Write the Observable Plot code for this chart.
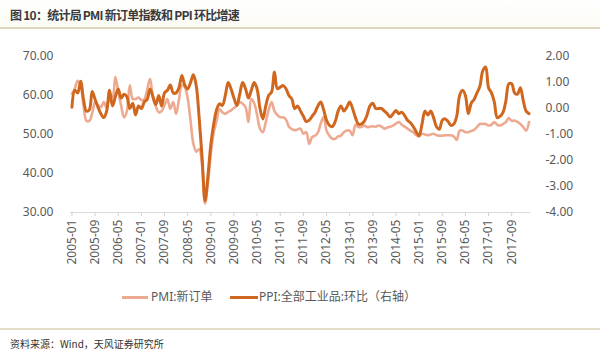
<!DOCTYPE html>
<html>
<head>
<meta charset="utf-8">
<script src="https://cdn.jsdelivr.net/npm/d3@7"></script>
<script src="https://cdn.jsdelivr.net/npm/@observablehq/plot@0.6"></script>
<style>
  html, body { margin: 0; padding: 0; background: #fff; }
  body { width: 600px; height: 355px; position: relative; overflow: hidden;
         font-family: "Noto Sans", "Noto Sans CJK SC", sans-serif; }
  #titlebar { position: absolute; left: 0; top: 0; width: 600px; height: 27px;
              background: linear-gradient(#ffffff, #fbfaf3); border-bottom: 2px solid #dcd5bd; }
  #title { position: absolute; left: 10px; top: 6px; font-size: 12px; font-weight: bold; color: #3a3a3a;
           font-family: "Noto Sans CJK SC", sans-serif; letter-spacing: -0.75px; white-space: nowrap; }
  #chart { position: absolute; left: 0; top: 0; }
  .sw { position: absolute; height: 3px; top: 296px; }
  .lt { position: absolute; top: 289px; font-size: 12px; color: #595959; white-space: nowrap;
        font-family: "Noto Sans", "Noto Sans CJK SC", sans-serif; line-height: 16px; }
  #bottomline { position: absolute; left: 0; top: 328px; width: 600px; height: 0; border-top: 2px solid #e3dcc6; }
  #source { position: absolute; left: 10px; top: 336px; font-size: 10px; color: #333;
            font-family: "Noto Sans CJK SC", sans-serif; white-space: nowrap; }
</style>
</head>
<body>
<div id="titlebar"></div>
<div id="chart"></div>
<div id="title">图 10：统计局 PMI 新订单指数和 PPI 环比增速</div>
<div class="sw" id="sw1" style="left:122px;width:26px;"></div>
<div class="lt" id="lt1" style="left:151px;"></div>
<div class="sw" id="sw2" style="left:230px;width:28px;"></div>
<div class="lt" id="lt2" style="left:259px;"></div>
<div id="bottomline"></div>
<div id="source">资料来源：Wind，天风证券研究所</div>
<script>
// ---- data ----
const startYear = 2005;
const monthCount = 159; // 2005-01 .. 2018-03
const months = [];
for (let i = 0; i < monthCount; i++) {
  const y = startYear + Math.floor(i / 12), m = (i % 12) + 1;
  months.push(y + "-" + String(m).padStart(2, "0"));
}
const tickLabels = ["2005-01","2005-09","2006-05","2007-01","2007-09","2008-05","2009-01","2009-09",
  "2010-05","2011-01","2011-09","2012-05","2013-01","2013-09","2014-05","2015-01","2015-09",
  "2016-05","2017-01","2017-09"];
const leftTicks = [30, 40, 50, 60, 70];
const rightTicks = [-4, -3, -2, -1, 0, 1, 2];
const seriesNames = ["PMI:新订单", "PPI:全部工业品:环比（右轴）"];

// PMI: new orders index (left axis)
const pmi = [
  60.4, 61.8, 63.8, 62.5, 57.5, 53.5, 53.5, 55.5, 58.3, 57.5, 57.0, 58.3,
  56.8, 59.8, 59.5, 64.7, 61.0, 57.4, 54.4, 56.0, 62.6, 59.1, 59.1, 59.5,
  58.8, 59.0, 61.5, 64.3, 59.5, 57.2, 55.7, 56.0, 57.5, 59.1, 56.6, 58.3,
  55.3, 59.0, 62.6, 62.1, 59.3, 53.5, 47.5, 45.6, 46.3, 42.0, 32.3, 37.5,
  45.0, 50.5, 53.5, 56.5, 55.7, 55.3, 55.8, 56.2, 56.8, 57.4, 58.3, 57.9,
  57.0, 53.2, 59.1, 58.0, 55.0, 51.5, 50.6, 53.2, 56.3, 58.3, 56.0, 55.0,
  54.4, 54.4, 53.8, 52.0, 51.4, 51.1, 51.3, 51.5, 50.2, 50.6, 47.6, 49.3,
  49.7, 50.5, 52.8, 54.5, 51.0, 49.7, 48.9, 48.9, 49.5, 49.7, 50.6, 51.0,
  51.0, 49.8, 52.5, 51.9, 51.9, 52.3, 51.9, 52.0, 52.1, 52.0, 52.3, 52.0,
  51.5, 51.8, 52.0, 52.3, 52.8, 53.2, 52.5, 52.0, 51.5, 51.0, 50.6, 49.8,
  49.5, 50.2, 50.0, 49.8, 50.0, 50.2, 49.8, 49.7, 49.7, 49.8, 49.8, 49.8,
  49.5, 48.6, 51.0, 51.0, 50.6, 50.6, 50.9, 51.2, 51.9, 52.7, 52.7, 52.7,
  52.3, 52.5, 53.2, 52.5, 52.3, 52.7, 53.2, 54.2, 53.5, 53.6, 53.2, 52.7,
  51.9, 51.0, 53.2
];
// PPI month-on-month (right axis)
const ppi = [
  0.05, 0.7, 0.6, 1.05, 0.35, -0.1, -0.05, 0.65, 0.35, 0.05, -0.2, -0.35,
  -0.1, 0.7, 0.1, 0.45, 0.75, 0.4, 0.55, 0.45, 0.0, 0.2, -0.25, 0.1,
  0.0, 0.25, 0.35, 0.75, 0.45, 0.15, 0.5, 0.1, 0.6, 0.7, 0.9, 0.6,
  0.6, 0.8, 1.27, 0.9, 0.75, 1.0, 1.3, 0.85, -0.4, -1.9, -3.55, -2.6,
  -1.4, -0.6, -0.05, 0.18, 0.12, 0.5, 1.0, 0.75, 0.4, 0.12, 0.55, 1.0,
  0.76, 0.4, 0.7, 1.0, 0.75, 0.0, -0.4, 0.1, 0.5, 0.63, 1.4, 0.76,
  0.82, 0.88, 0.76, 0.5, 0.37, 0.0, 0.1, -0.1, -0.3, -0.5, -0.45, -0.3,
  -0.15, 0.1, 0.25, -0.05, -0.45, -0.65, -0.7, -0.5, -0.1, 0.1, -0.1, 0.05,
  0.25, 0.0, -0.35, -0.6, -0.6, -0.5, -0.25, 0.1, 0.2, 0.0, 0.0, 0.0,
  -0.1, -0.2, -0.33, -0.2, -0.08, -0.2, -0.14, -0.27, -0.45, -0.55, -0.7, -0.9,
  -1.05, -0.6, -0.1, -0.25, -0.1, -0.35, -0.7, -0.8, -0.45, -0.4, -0.5, -0.65,
  -0.6, -0.3, 0.5, 0.7, 0.5, -0.2, 0.2, 0.35, 0.6, 0.85, 1.45, 1.6,
  0.8, 0.6, 0.25, -0.35, -0.3, -0.15, 0.3, 0.95, 0.95, 0.6, 0.55, 0.8,
  0.3, -0.1, -0.2
];

const lightColor = "#eeaa90";
const darkColor = "#d0671f";

// right-axis value -> left-axis scale units
const lDom = [30, 70], rDom = [-4, 2];
const toLeft = v => lDom[0] + (v - rDom[0]) * (lDom[1] - lDom[0]) / (rDom[1] - rDom[0]);
const fromLeft = v => rDom[0] + (v - lDom[0]) * (rDom[1] - rDom[0]) / (lDom[1] - lDom[0]);

const rows = months.map((m, i) => ({month: m, pmi: pmi[i], ppi: ppi[i]}));

const chart = Plot.plot({
  width: 600,
  height: 280,
  marginTop: 56,
  marginBottom: 68,
  marginLeft: 70,
  marginRight: 70,
  style: {fontSize: "12px", fontFamily: "'Noto Sans', 'Noto Sans CJK SC', sans-serif", color: "#595959", background: "transparent"},
  x: {type: "point", domain: months, padding: 0.5, align: 0.5},
  y: {domain: lDom},
  marks: [
    Plot.ruleY([lDom[0]], {stroke: "#d9d9d9", strokeWidth: 1}),
    Plot.axisX({ticks: tickLabels, tickRotate: -90, tickSize: 4, tickPadding: 3,
      stroke: "#d0d0d0", fill: "#595959", label: null, fontSize: 12}),
    Plot.axisY({ticks: leftTicks, tickSize: 0, tickPadding: 17, tickFormat: d => d.toFixed(2),
      label: null, fill: "#595959", fontSize: 12}),
    Plot.axisY(rightTicks.map(toLeft), {anchor: "right", tickSize: 0, tickPadding: 15,
      tickFormat: d => fromLeft(d).toFixed(2), label: null, fill: "#595959", fontSize: 12, textAnchor: "start"}),
    Plot.lineY(rows, {x: "month", y: "pmi", stroke: lightColor, strokeWidth: 2.6, curve: "catmull-rom"}),
    Plot.lineY(rows, {x: "month", y: d => toLeft(d.ppi), stroke: darkColor, strokeWidth: 3, curve: "catmull-rom"})
  ]
});
document.getElementById("chart").appendChild(chart);

document.getElementById("sw1").style.background = lightColor;
document.getElementById("sw2").style.background = darkColor;
document.getElementById("lt1").textContent = seriesNames[0];
document.getElementById("lt2").textContent = seriesNames[1];
</script>
</body>
</html>
